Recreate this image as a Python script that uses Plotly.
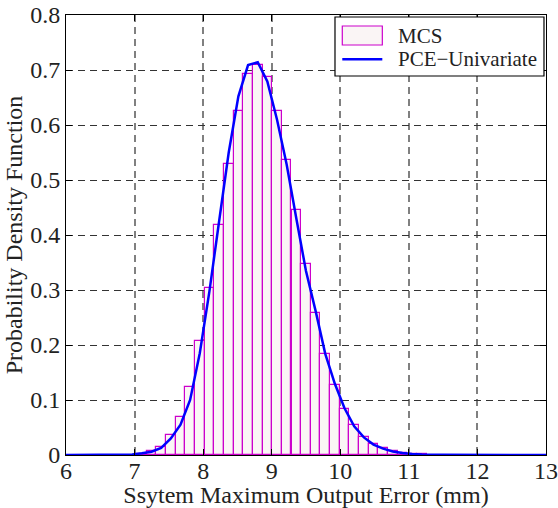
import plotly.graph_objects as go

# Monte Carlo histogram: bin centres and normalised heights (PDF)
bin_centers = [7.106, 7.247, 7.388, 7.529, 7.670, 7.810, 7.951, 8.092, 8.233,
               8.373, 8.514, 8.655, 8.796, 8.936, 9.077, 9.218, 9.359, 9.499,
               9.640, 9.781, 9.922, 10.062, 10.203, 10.344, 10.485, 10.625,
               10.766, 10.907, 11.048, 11.189]
mcs_pdf = [0.002, 0.0073, 0.015, 0.036, 0.070, 0.124, 0.207, 0.303, 0.418,
           0.530, 0.626, 0.692, 0.709, 0.688, 0.625, 0.536, 0.446, 0.347,
           0.258, 0.184, 0.127, 0.084, 0.054, 0.033, 0.020, 0.012,
           0.0067, 0.0042, 0.002, 0.001]
bin_width = 0.1407

# Univariate PCE density estimate
pce_x = [6.0, 6.5, 6.966, 7.106, 7.247, 7.388, 7.529, 7.670, 7.810, 7.951,
         8.092, 8.233, 8.373, 8.514, 8.655, 8.796, 8.936, 9.077, 9.218,
         9.359, 9.499, 9.640, 9.781, 9.922, 10.062, 10.203, 10.344, 10.485,
         10.625, 10.766, 10.907, 11.048, 11.189, 11.5, 12.0, 12.5, 13.0]
pce_pdf = [0.0, 0.0, 0.001, 0.003, 0.006, 0.013, 0.030, 0.055, 0.100, 0.185,
           0.298, 0.425, 0.550, 0.652, 0.709, 0.714, 0.679, 0.610, 0.528,
           0.430, 0.335, 0.262, 0.184, 0.129, 0.085, 0.052, 0.032, 0.019,
           0.0115, 0.0065, 0.0035, 0.002, 0.001, 0.0003, 0.0, 0.0, 0.0]

x_ticks = [6, 7, 8, 9, 10, 11, 12, 13]
y_ticks = [0, 0.1, 0.2, 0.3, 0.4, 0.5, 0.6, 0.7, 0.8]
y_tick_text = ["0", "0.1", "0.2", "0.3", "0.4", "0.5", "0.6", "0.7", "0.8"]
legend_labels = ["MCS", "PCE\u2212Univariate"]

FONT = "Liberation Serif, Times New Roman, serif"
TEXT = "#222"
BAR_FILL = "#faf5f5"
BAR_EDGE = "#cc00cc"
LINE_BLUE = "#0000ff"

fig = go.Figure()
fig.add_trace(go.Bar(
    x=bin_centers, y=mcs_pdf, width=bin_width, name=legend_labels[0],
    marker=dict(color=BAR_FILL, line=dict(color=BAR_EDGE, width=1.2)),
))
fig.add_trace(go.Scatter(
    x=pce_x, y=pce_pdf, mode="lines", name=legend_labels[1],
    line=dict(color=LINE_BLUE, width=2.5),
))

# Boxed legend in the upper-right corner (paper coordinates)
fig.add_shape(type="rect", xref="paper", yref="paper",
              x0=0.5604, x1=0.9958, y0=0.8614, y1=0.9955,
              line=dict(color="black", width=1.2), fillcolor="white")
fig.add_shape(type="rect", xref="paper", yref="paper",
              x0=0.5756, x1=0.659, y0=0.9318, y1=0.975,
              line=dict(color=BAR_EDGE, width=1.2), fillcolor=BAR_FILL)
fig.add_shape(type="line", xref="paper", yref="paper",
              x0=0.5756, x1=0.659, y0=0.8993, y1=0.8993,
              line=dict(color=LINE_BLUE, width=2.5))
for label, ypos in zip(legend_labels, [0.952, 0.900]):
    fig.add_annotation(text=label, xref="paper", yref="paper", x=0.687,
                       y=ypos, xanchor="left", yanchor="middle",
                       showarrow=False,
                       font=dict(family=FONT, size=21, color=TEXT))

fig.update_layout(
    width=558, height=508,
    margin=dict(l=66, r=12, t=15, b=53),
    paper_bgcolor="white", plot_bgcolor="white",
    font=dict(family=FONT, size=24, color=TEXT),
    bargap=0,
    showlegend=False,
)
fig.update_xaxes(
    range=[6, 13], tickvals=x_ticks, ticks="inside", ticklen=6,
    tickcolor="black", showline=True, linecolor="black", linewidth=1,
    mirror="ticks", showgrid=True, gridcolor="#808080", gridwidth=1.5,
    griddash="7px,5px", zeroline=False, automargin=False,
    ticklabelstandoff=-6,
    tickfont=dict(family=FONT, size=24, color=TEXT),
    title=dict(text="Ssytem Maximum Output Error (mm)", standoff=0,
               font=dict(family=FONT, size=24, color=TEXT)),
)
fig.update_yaxes(
    range=[0, 0.8], tickvals=y_ticks, ticktext=y_tick_text, ticks="inside",
    ticklen=6, tickcolor="black", showline=True, linecolor="black",
    linewidth=1, mirror="ticks", showgrid=True, gridcolor="#333",
    gridwidth=1, griddash="7px,5px", zeroline=False, automargin=False,
    tickfont=dict(family=FONT, size=24, color=TEXT),
    title=dict(text="Probability Density Function", standoff=0,
               font=dict(family=FONT, size=24, color=TEXT)),
)

fig.write_html("out.html")
